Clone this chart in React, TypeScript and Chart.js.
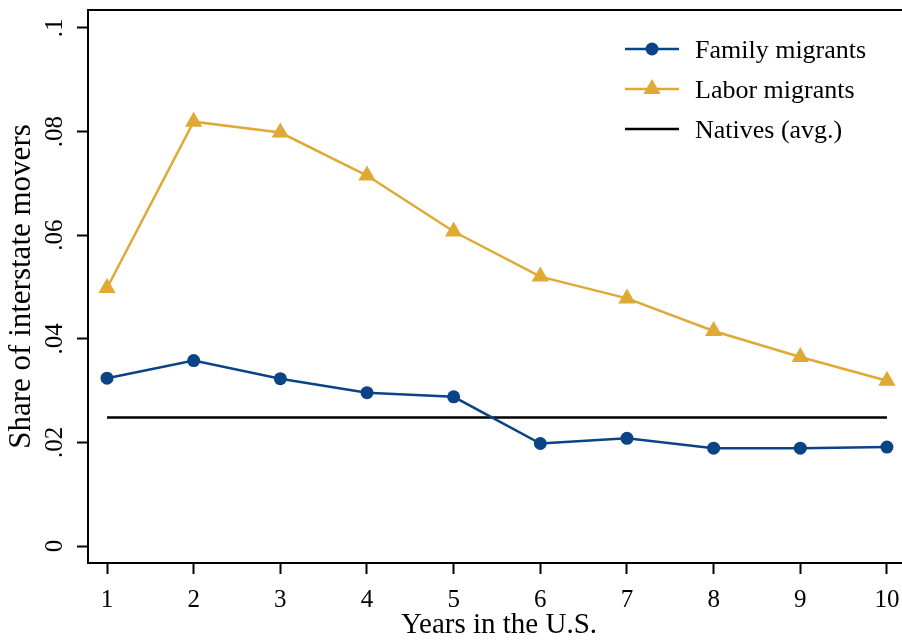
import { useEffect, useRef } from "react";
import { Chart, registerables } from "chart.js";

Chart.register(...registerables);

// ---- data ----
const YEARS = [1, 2, 3, 4, 5, 6, 7, 8, 9, 10];
const FAMILY = [0.0324, 0.0358, 0.0323, 0.0296, 0.0288, 0.0198, 0.0208, 0.0189, 0.0189, 0.0191];
const LABOR = [0.0498, 0.0819, 0.0798, 0.0715, 0.0607, 0.052, 0.0478, 0.0415, 0.0365, 0.0319];
const NATIVES_AVG = 0.0248;
const SERIES = ["Family migrants", "Labor migrants", "Natives (avg.)"];
const X_TICKS = [1, 2, 3, 4, 5, 6, 7, 8, 9, 10];
const Y_TICKS = [0, 0.02, 0.04, 0.06, 0.08, 0.1];

const BLUE = "#0b4387";
const GOLD = "#dfa935";
const FONT = "'Liberation Serif', 'DejaVu Serif', serif";

// stata style labels: .02 instead of 0.02
const fmt = (v: number) => (v === 0 ? "0" : String(v).replace(/^0\./, "."));

// top frame line, rotated y labels and the legend box
const extras = {
  id: "extras",
  afterDraw(chart: any) {
    const { ctx, chartArea, scales } = chart;
    ctx.save();
    ctx.strokeStyle = "#000";
    ctx.lineWidth = 2;
    ctx.beginPath();
    ctx.moveTo(chartArea.left - 1, chartArea.top);
    ctx.lineTo(chartArea.right, chartArea.top);
    ctx.stroke();

    ctx.fillStyle = "#000";
    ctx.font = `25px ${FONT}`;
    ctx.textAlign = "center";
    ctx.textBaseline = "middle";
    for (const v of Y_TICKS) {
      const py = scales.y.getPixelForValue(v);
      ctx.save();
      ctx.translate(chartArea.left - 32.5, py);
      ctx.rotate(-Math.PI / 2);
      ctx.fillText(fmt(v), 0, 0);
      ctx.restore();
    }

    // legend
    const x0 = 625, x1 = 679, tx = 695;
    let ry = chartArea.top + 39;
    ctx.font = `26px ${FONT}`;
    ctx.textAlign = "left";
    ctx.textBaseline = "alphabetic";
    chart.data.datasets.forEach((ds: any) => {
      ctx.strokeStyle = ds.borderColor;
      ctx.lineWidth = ds.borderWidth;
      ctx.beginPath();
      ctx.moveTo(x0, ry);
      ctx.lineTo(x1, ry);
      ctx.stroke();
      const cx = (x0 + x1) / 2;
      const r = ds.pointRadius;
      ctx.fillStyle = ds.pointBackgroundColor;
      if (r > 0 && ds.pointStyle === "circle") {
        ctx.beginPath();
        ctx.arc(cx, ry, r, 0, Math.PI * 2);
        ctx.fill();
      } else if (r > 0 && ds.pointStyle === "triangle") {
        ctx.beginPath();
        let a = 0;
        ctx.moveTo(cx + Math.sin(a) * r, ry - Math.cos(a) * r);
        a += (2 * Math.PI) / 3;
        ctx.lineTo(cx + Math.sin(a) * r, ry - Math.cos(a) * r);
        a += (2 * Math.PI) / 3;
        ctx.lineTo(cx + Math.sin(a) * r, ry - Math.cos(a) * r);
        ctx.closePath();
        ctx.fill();
      }
      ctx.fillStyle = "#000";
      ctx.fillText(ds.label, tx, ry + 9);
      ry += 40;
    });
    ctx.restore();
  },
};

export default function App() {
  const canvasRef = useRef<HTMLCanvasElement | null>(null);

  useEffect(() => {
    document.body.style.margin = "0";
    const ctx = canvasRef.current!.getContext("2d")!;
    const chart = new Chart(ctx, {
      type: "line",
      data: {
        datasets: [
          {
            label: SERIES[0],
            data: YEARS.map((x, i) => ({ x, y: FAMILY[i] })),
            borderColor: BLUE,
            borderWidth: 2.5,
            pointStyle: "circle",
            pointRadius: 6.5,
            pointBorderWidth: 0,
            pointBackgroundColor: BLUE,
          },
          {
            label: SERIES[1],
            data: YEARS.map((x, i) => ({ x, y: LABOR[i] })),
            borderColor: GOLD,
            borderWidth: 2.5,
            pointStyle: "triangle",
            pointRadius: 10,
            pointBorderWidth: 0,
            pointBackgroundColor: GOLD,
          },
          {
            label: SERIES[2],
            data: [
              { x: YEARS[0], y: NATIVES_AVG },
              { x: YEARS[YEARS.length - 1], y: NATIVES_AVG },
            ],
            borderColor: "#000",
            borderWidth: 2.5,
            pointStyle: "line",
            pointRadius: 0,
            pointBackgroundColor: "#000",
          },
        ] as any,
      },
      options: {
        responsive: false,
        animation: false,
        layout: { padding: { top: 7, right: 0, bottom: 0, left: 0 } },
        plugins: { legend: { display: false }, tooltip: { enabled: false } },
        scales: {
          x: {
            type: "linear",
            min: 0.7805,
            max: 10.266,
            afterBuildTicks: (s: any) => {
              s.ticks = X_TICKS.map((v) => ({ value: v }));
            },
            afterFit: (s: any) => {
              s.height = 77;
            },
            grid: { display: true, drawOnChartArea: false, drawTicks: true, tickLength: 11, tickWidth: 2, color: "#000" },
            border: { display: true, width: 2, color: "#000" },
            ticks: { color: "#000", font: { family: FONT, size: 25 }, padding: 11, maxRotation: 0 },
            title: {
              display: true,
              text: "Years in the U.S.",
              color: "#000",
              font: { family: FONT, size: 29, lineHeight: 1 },
              padding: { top: 0, bottom: 0 },
            },
          },
          y: {
            type: "linear",
            min: -0.003263,
            max: 0.10345,
            afterBuildTicks: (s: any) => {
              s.ticks = Y_TICKS.map((v) => ({ value: v }));
            },
            afterFit: (s: any) => {
              s.width = 88;
            },
            grid: { display: true, drawOnChartArea: false, drawTicks: true, tickLength: 11, tickWidth: 2, color: "#000" },
            border: { display: true, width: 2, color: "#000" },
            ticks: { display: false },
            title: {
              display: true,
              text: "Share of interstate movers",
              color: "#000",
              font: { family: FONT, size: 31, lineHeight: 1 },
              padding: { top: 6, bottom: 0 },
            },
          },
        },
      },
      plugins: [extras],
    } as any);
    return () => chart.destroy();
  }, []);

  // the plot region runs past the right edge of the picture, as in the source figure
  return (
    <div style={{ width: 902, height: 640, background: "#fff", overflow: "hidden" }}>
      <canvas ref={canvasRef} width={920} height={640} style={{ width: 920, height: 640 }} />
    </div>
  );
}
